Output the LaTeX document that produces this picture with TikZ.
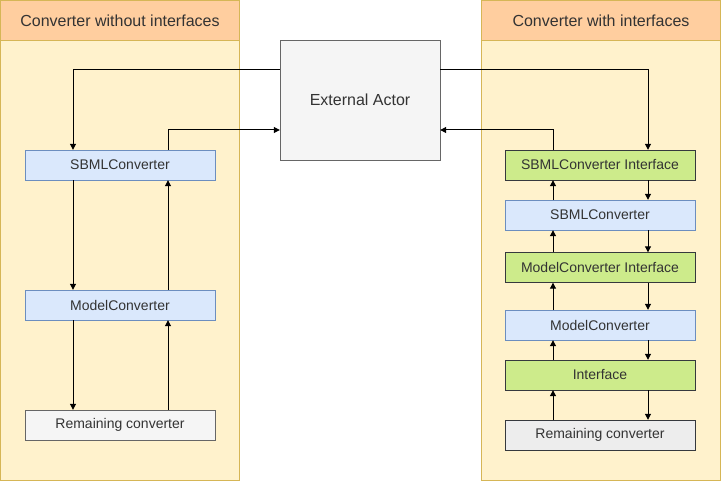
\documentclass[tikz,border=0pt]{standalone}
\usepackage{fontspec}
\setmainfont{Liberation Sans}
\usetikzlibrary{arrows.meta}
\tikzstyle{sheet} = [x = 1pt, y = -1pt]
\definecolor{panelFill}{HTML}{FFF2CC}
\definecolor{panelLine}{HTML}{D6B656}
\definecolor{headerFill}{HTML}{FFCE9F}
\definecolor{blueFill}{HTML}{DAE8FC}
\definecolor{blueLine}{HTML}{6C8EBF}
\definecolor{greenFill}{HTML}{CDEB8B}
\definecolor{greenLine}{HTML}{36393D}
\definecolor{greyFill}{HTML}{F5F5F5}
\definecolor{greyLine}{HTML}{666666}
\definecolor{textColor}{HTML}{333333}
\tikzstyle{panelBody} = [draw=panelLine, fill=panelFill, minimum width=239pt, minimum height=440pt, inner sep=0pt]
\tikzstyle{panelHeader} = [draw=panelLine, fill=headerFill, minimum width=239pt, minimum height=40pt, inner sep=0pt, font=\fontsize{16}{18}\selectfont, text=textColor]
\tikzstyle{convBox} = [minimum width=190pt, minimum height=30pt, inner sep=0pt, font=\fontsize{14}{16}\selectfont, text=textColor]
\tikzstyle{blueBox} = [convBox, draw=blueLine, fill=blueFill]
\tikzstyle{greenBox} = [convBox, draw=greenLine, fill=greenFill]
\tikzstyle{greyBox} = [convBox, draw=greyLine, fill=greyFill]
\tikzstyle{flowLine} = [draw=black, line width=1pt, -{Triangle[length=6pt, width=6pt]}]
\newcommand{\linkDown}[3]{\draw [flowLine] ([xshift=#3]#1.south) -- ([xshift=#3]#2.north);}
\newcommand{\linkUp}[3]{\draw [flowLine] ([xshift=#3]#2.north) -- ([xshift=#3]#1.south);}
\begin{document}
\begin{tikzpicture}[sheet]
  \useasboundingbox (0,0) rectangle (721,481);
  % panels
  \node [panelBody] (leftPanel) at (120,260) {};
  \node [panelHeader] (leftHeader) at (120,20.5) {Converter without interfaces};
  \node [panelBody] (rightPanel) at (601,260) {};
  \node [panelHeader] (rightHeader) at (601,20.5) {Converter with interfaces};

  \node [greyBox, minimum width=160pt, minimum height=120pt, font=\fontsize{16}{18}\selectfont] (extActor) at (360,100) {External Actor};

  % without interfaces
  \node [blueBox] (leftSbml) at (120,165) {SBMLConverter};
  \node [blueBox] (leftModel) at (120,305) {ModelConverter};
  \node [greyBox] (leftRest) at (120,425) {Remaining converter};

  % with interfaces
  \node [greenBox] (sbmlIface) at (600,165) {SBMLConverter Interface};
  \node [blueBox] (rightSbml) at (600,215) {SBMLConverter};
  \node [greenBox] (modelIface) at (600,267.5) {ModelConverter Interface};
  \node [blueBox] (rightModel) at (600,325) {ModelConverter};
  \node [greenBox] (lastIface) at (600,375) {Interface};
  \node [greyBox, fill=black!7, draw=greenLine] (rightRest) at (600,435) {Remaining converter};

  \draw [flowLine] ([yshift=30pt]extActor.west) -| ([xshift=-47pt]leftSbml.north);
  \draw [flowLine] ([xshift=48pt]leftSbml.north) |- ([yshift=-30pt]extActor.west);
  \draw [flowLine] ([yshift=30pt]extActor.east) -| ([xshift=48pt]sbmlIface.north);
  \draw [flowLine] ([xshift=-47pt]sbmlIface.north) |- ([yshift=-30pt]extActor.east);

  \linkDown{leftSbml}{leftModel}{-47pt}
  \linkDown{leftModel}{leftRest}{-47pt}
  \linkUp{leftSbml}{leftModel}{48pt}
  \linkUp{leftModel}{leftRest}{48pt}

  \foreach \upper/\lower in {sbmlIface/rightSbml, rightSbml/modelIface, modelIface/rightModel, rightModel/lastIface, lastIface/rightRest} {
    \linkDown{\upper}{\lower}{48pt}
    \linkUp{\upper}{\lower}{-47pt}
  }
\end{tikzpicture}
\end{document}
